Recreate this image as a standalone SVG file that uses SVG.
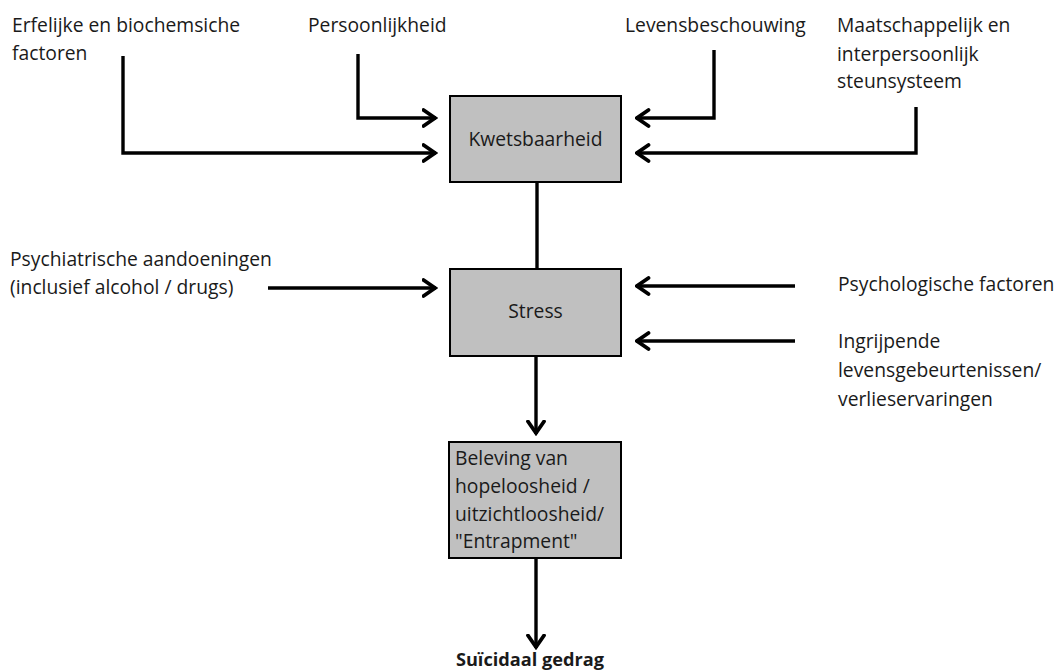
<svg xmlns="http://www.w3.org/2000/svg" width="1055" height="671" viewBox="0 0 1055 671">
<defs>
<marker id="ah" viewBox="0 0 16 20" refX="14.5" refY="10" markerWidth="16" markerHeight="20" markerUnits="userSpaceOnUse" orient="auto">
<path d="M2,2 L13.5,10 L2,18" fill="none" stroke="#000" stroke-width="3.8" stroke-linejoin="miter" stroke-linecap="round"/>
</marker>
<style>
.t{font-family:"Open Sans","Liberation Sans",sans-serif;font-size:19.3px;fill:#1a1a1a}
.b{font-weight:bold;font-size:18.2px}
.box{fill:#c0c0c0;stroke:#000;stroke-width:2}
.c{fill:none;stroke:#000;stroke-width:3.4}
.a{marker-end:url(#ah)}
</style>
</defs>
<rect width="1055" height="671" fill="#fff"/>

<g id="labels">
<text class="t" x="12" y="32">Erfelijke en biochemsiche</text>
<text class="t" x="12" y="60">factoren</text>
<text class="t" x="308" y="32">Persoonlijkheid</text>
<text class="t" x="625" y="32">Levensbeschouwing</text>
<text class="t" x="837" y="32">Maatschappelijk en</text>
<text class="t" x="837" y="61">interpersoonlijk</text>
<text class="t" x="837" y="88">steunsysteem</text>
<text class="t" x="10" y="266">Psychiatrische aandoeningen</text>
<text class="t" x="10" y="294">(inclusief alcohol / drugs)</text>
<text class="t" x="838" y="291">Psychologische factoren</text>
<text class="t" x="838" y="348">Ingrijpende</text>
<text class="t" x="838" y="377">levensgebeurtenissen/</text>
<text class="t" x="838" y="406">verlieservaringen</text>
</g>

<g id="kwetsbaarheid">
<rect class="box" x="450" y="96" width="171" height="86"/>
<text class="t" x="535.5" y="146" text-anchor="middle">Kwetsbaarheid</text>
</g>

<g id="stress">
<rect class="box" x="450" y="269" width="171" height="87"/>
<text class="t" x="535.5" y="318" text-anchor="middle">Stress</text>
</g>

<g id="beleving">
<rect class="box" x="449" y="442" width="172" height="116"/>
<text class="t" x="455" y="465">Beleving van</text>
<text class="t" x="455" y="493">hopeloosheid /</text>
<text class="t" x="455" y="521">uitzichtloosheid/</text>
<text class="t" x="455" y="548">"Entrapment"</text>
</g>

<g id="suicidaal">
<text class="t b" x="530" y="666" text-anchor="middle">Suïcidaal gedrag</text>
</g>

<g id="connectors">
<path class="c a" d="M123,56 V153 H436"/>
<path class="c a" d="M358,54 V118 H436"/>
<path class="c a" d="M714,50 V118 H636"/>
<path class="c a" d="M916,107 V153 H636"/>
<path class="c" d="M537,182 V269"/>
<path class="c a" d="M268,288 H436"/>
<path class="c a" d="M795,286 H636"/>
<path class="c a" d="M795,341 H636"/>
<path class="c a" d="M536,356 V434"/>
<path class="c a" d="M536,558 V648"/>
</g>
</svg>
